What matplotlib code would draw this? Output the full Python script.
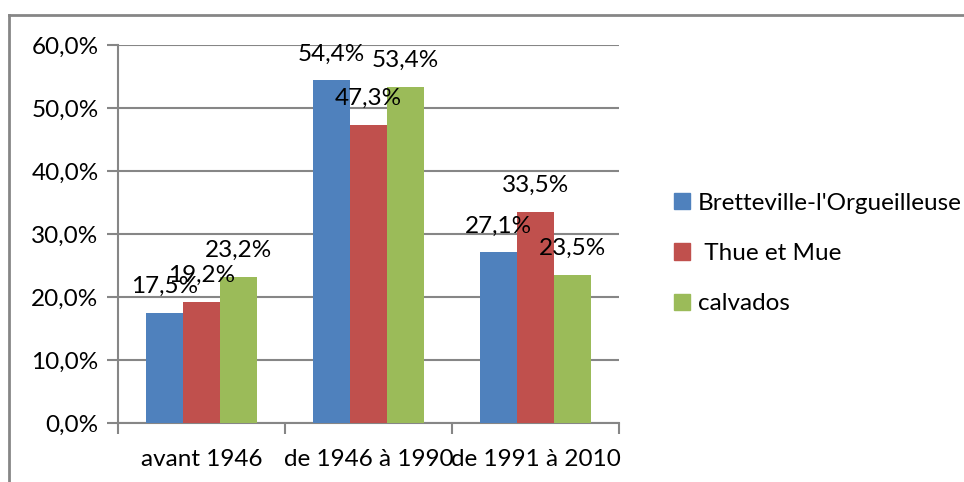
import matplotlib.pyplot as plt
from matplotlib.lines import Line2D
from matplotlib.ticker import FuncFormatter
import numpy as np

plt.rcParams['font.family'] = ['Lato', 'DejaVu Sans']

categories = ['avant 1946', 'de 1946 à 1990', 'de 1991 à 2010']
series = ['Bretteville-l\'Orgueilleuse', ' Thue et Mue', 'calvados']
bretteville = [17.5, 54.4, 27.1]
thue_et_mue = [19.2, 47.3, 33.5]
calvados = [23.2, 53.4, 23.5]
colors = ['#4f81bd', '#c0504d', '#9bbb59']
grid_col = '#868686'
fs = 17.5

fig = plt.figure(figsize=(9.64, 4.82), dpi=100)
ax = fig.add_axes([118 / 964, 1 - 423 / 482, 501 / 964, 378 / 482])

x = np.arange(len(categories))
w = 0.22
values = [bretteville, thue_et_mue, calvados]
for i, (vals, name, c) in enumerate(zip(values, series, colors)):
    pos = x + (i - 1) * w
    ax.bar(pos, vals, width=w, color=c, label=name, zorder=3)
    for px, v in zip(pos, vals):
        ax.annotate(f'{v:.1f}%'.replace('.', ','), (px, v), xytext=(0, 19),
                    textcoords='offset points', ha='center', va='center',
                    fontsize=fs, color='black', zorder=4)

ax.set_xlim(-0.5, 2.5)
ax.set_ylim(0, 60)
ax.set_yticks(np.arange(0, 61, 10))
ax.yaxis.set_major_formatter(FuncFormatter(lambda v, p: f'{v:.1f}%'.replace('.', ',')))
ax.set_xticks(x)
ax.set_xticklabels(categories)
ax.set_xticks([-0.5, 0.5, 1.5, 2.5], minor=True)
ax.tick_params(axis='x', which='major', length=0, pad=19, labelsize=fs)
ax.tick_params(axis='x', which='minor', length=8, width=1.5, color=grid_col)
ax.tick_params(axis='y', length=8, width=1.5, color=grid_col, pad=6, labelsize=fs)
ax.yaxis.grid(True, color=grid_col, lw=1.5, zorder=0)
for s in ['top', 'right']:
    ax.spines[s].set_visible(False)
for s in ['left', 'bottom']:
    ax.spines[s].set_color(grid_col)
    ax.spines[s].set_linewidth(1.5)

handles = [plt.Rectangle((0, 0), 1, 1, color=c) for c in colors]
fig.legend(handles, series, loc='upper left', bbox_to_anchor=(652 / 964, 1 - 171 / 482),
           frameon=False, fontsize=fs, handlelength=0.65, handleheight=0.65,
           handletextpad=0.35, labelspacing=1.2)

# outer frame: top and left edges only
fig.add_artist(Line2D([9 / 964, 1], [1 - 15 / 482, 1 - 15 / 482], color=grid_col, lw=2))
fig.add_artist(Line2D([9 / 964, 9 / 964], [0, 1 - 15 / 482], color=grid_col, lw=2))

fig.savefig('out.png', dpi=100)
